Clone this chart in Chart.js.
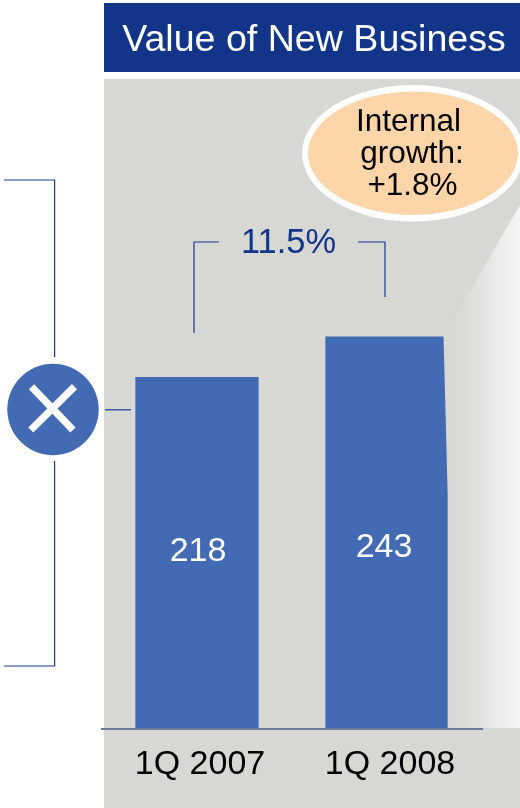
<!DOCTYPE html>
<html>
<head>
<meta charset="utf-8">
<style>html,body{margin:0;padding:0;background:#fff}canvas{display:block}</style>
<script src="https://cdn.jsdelivr.net/npm/chart.js@4"></script>
</head>
<body>
<canvas id="c" width="520" height="808"></canvas>
<script>
const categories = ["1Q 2007", "1Q 2008"];
const values = [218, 243];
const titleText = "Value of New Business";
const growthText = "11.5%";
const bubbleLines = ["Internal", "growth:", "+1.8%"];

const NAVY = "#12358A", LINE = "#173A92", BLUE = "#436BB3", PANEL = "#D7D7D3", FONT = "'Liberation Sans', Arial, sans-serif";

function path(ctx, pts, color, width) {
  ctx.beginPath();
  pts.forEach((p, i) => i ? ctx.lineTo(p[0], p[1]) : ctx.moveTo(p[0], p[1]));
  ctx.strokeStyle = color; ctx.lineWidth = width; ctx.stroke();
}
function text(ctx, s, x, y, size, color) {
  ctx.font = size + "px " + FONT; ctx.fillStyle = color;
  ctx.textAlign = "center"; ctx.textBaseline = "alphabetic";
  ctx.fillText(s, x, y);
}

const decor = {
  id: "decor",
  beforeDraw(chart) {
    const ctx = chart.ctx;
    ctx.save();
    ctx.fillStyle = "#fff"; ctx.fillRect(0, 0, 520, 808);
    ctx.fillStyle = NAVY; ctx.fillRect(104, 3, 416, 69);
    ctx.fillStyle = PANEL; ctx.fillRect(104, 79, 416, 729);
    ctx.restore();
  },
  afterDatasetsDraw(chart) {
    const ctx = chart.ctx;
    ctx.save();
    const g = ctx.createLinearGradient(448, 0, 520, 0);
    g.addColorStop(0, PANEL); g.addColorStop(0.22, "#DADAD6"); g.addColorStop(1, "#F6F6F6");
    ctx.beginPath();
    ctx.moveTo(520, 205); ctx.lineTo(443.5, 336); ctx.lineTo(447.7, 495);
    ctx.lineTo(447.7, 728); ctx.lineTo(520, 728); ctx.closePath();
    ctx.fillStyle = g; ctx.fill();
    text(ctx, String(values[0]), 198, 561, 34, "#fff");
    text(ctx, String(values[1]), 384, 557, 34, "#fff");
    ctx.restore();
  },
  afterDraw(chart) {
    const ctx = chart.ctx;
    ctx.save();
    text(ctx, titleText, 314, 50.5, 37.6, "#fff");
    ctx.beginPath(); ctx.ellipse(413, 153.3, 111, 68.3, 0, 0, Math.PI * 2); ctx.fillStyle = "#fff"; ctx.fill();
    ctx.beginPath(); ctx.ellipse(413, 153.3, 105, 61.7, 0, 0, Math.PI * 2); ctx.fillStyle = "#FDD5A8"; ctx.fill();
    text(ctx, bubbleLines[0], 408.5, 131, 31.5, "#000");
    text(ctx, bubbleLines[1], 412, 163, 31.5, "#000");
    text(ctx, bubbleLines[2], 412.5, 195, 31.5, "#000");
    text(ctx, growthText, 288.5, 253, 34.4, NAVY);
    path(ctx, [[194, 333], [194, 242], [219, 242]], LINE, 1.2);
    path(ctx, [[358, 242], [385, 242], [385, 297]], LINE, 1.2);
    path(ctx, [[4, 180], [54.6, 180], [54.6, 357]], LINE, 1.2);
    path(ctx, [[54.6, 461], [54.6, 666], [4, 666]], LINE, 1.2);
    path(ctx, [[105, 409.8], [131, 409.8]], LINE, 1.2);
    ctx.beginPath(); ctx.arc(53, 409.5, 45.7, 0, Math.PI * 2); ctx.fillStyle = BLUE; ctx.fill();
    path(ctx, [[31.5, 386.7], [73, 430]], "#fff", 7.3);
    path(ctx, [[74.5, 386.7], [30.8, 430]], "#fff", 7.3);
    ctx.restore();
  }
};

new Chart(document.getElementById("c"), {
  type: "bar",
  data: {
    labels: categories,
    datasets: [{ data: values, backgroundColor: BLUE, borderWidth: 0, barPercentage: 0.649, categoryPercentage: 1 }]
  },
  plugins: [decor],
  options: {
    responsive: false,
    animation: false,
    layout: { padding: { left: 102, right: 38, top: 83, bottom: 0 } },
    plugins: { legend: { display: false }, tooltip: { enabled: false }, title: { display: false } },
    scales: {
      x: {
        grid: { display: false, drawTicks: false },
        border: { display: true, color: "#6A7A99", width: 2, z: 1 },
        ticks: { color: "#000", font: { family: FONT, size: 34 }, padding: 15, labelOffset: 3, maxRotation: 0, autoSkip: false },
        afterFit(s) { s.height = 79; }
      },
      y: { display: false, min: 0, max: 400 }
    }
  }
});
</script>
</body>
</html>
